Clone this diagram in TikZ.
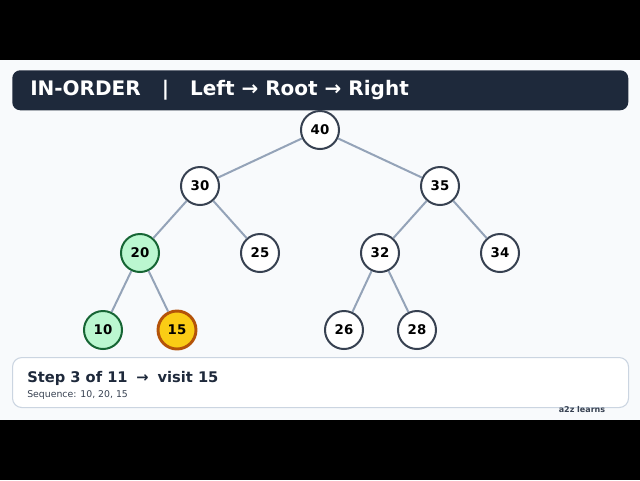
\documentclass[tikz,border=0pt]{standalone}
\usepackage{fontspec}
\setmainfont{DejaVu Sans}
\begin{document}
\begin{tikzpicture}[x=0.75pt,y=-0.75pt,
  nd/.style={circle,minimum size=28.5pt,inner sep=0pt,draw=ndline,line width=1.5pt,fill=white,font=\bfseries\fontsize{10}{12}\selectfont,text=black},
  done/.style={nd,fill=donefill,draw=doneline},
  cur/.style={nd,fill=curfill,draw=curline,line width=2.2pt},
  ed/.style={draw=edgecol,line width=1.5pt}]
\definecolor{ndline}{HTML}{374151}
\definecolor{donefill}{HTML}{BBF7D0}
\definecolor{doneline}{HTML}{166534}
\definecolor{curfill}{HTML}{FACC15}
\definecolor{curline}{HTML}{B45309}
\definecolor{edgecol}{HTML}{94A3B8}
\definecolor{hdr}{HTML}{1E293B}
\definecolor{bg}{HTML}{F8FAFC}
\definecolor{boxline}{HTML}{CBD5E1}
\useasboundingbox (0,0) rectangle (640,480);
\fill[black] (0,0) rectangle (640,480);
\fill[bg] (0,60) rectangle (640,420);
\node[fill=hdr,rounded corners=6pt,minimum width=462pt,minimum height=30pt,anchor=north west] (hdr) at (12,70) {};
\node[anchor=west,inner sep=0pt,text=white,font=\bfseries\fontsize{15}{17}\selectfont] (title) at (30,90.5) {IN-ORDER\hspace{1.05em}|\hspace{1.05em}Left → Root → Right};
\node[nd] (n40) at (320,130) {40};
\node[nd] (n30) at (200,186) {30};
\node[nd] (n35) at (440,186) {35};
\node[done] (n20) at (140,253) {20};
\node[nd] (n25) at (260,253) {25};
\node[nd] (n32) at (380,253) {32};
\node[nd] (n34) at (500,253) {34};
\node[done] (n10) at (103,330) {10};
\node[cur] (n15) at (177,330) {15};
\node[nd] (n26) at (344,330) {26};
\node[nd] (n28) at (417,330) {28};
\foreach \a/\b in {n40/n30,n40/n35,n30/n20,n30/n25,n35/n32,n35/n34,n20/n10,n20/n15,n32/n26,n32/n28}
  \draw[ed] (\a) -- (\b);
\node[fill=white,draw=boxline,line width=0.8pt,rounded corners=7pt,minimum width=462pt,minimum height=37.5pt,anchor=north west] (box) at (12,357) {};
\node[anchor=west,inner sep=0pt,font=\bfseries\fontsize{11}{13}\selectfont,text=hdr] (step) at (27,378.5) {Step 3 of 11\hspace{0.6em}→\hspace{0.6em}visit 15};
\node[anchor=west,inner sep=0pt,font=\fontsize{7}{9}\selectfont,text=ndline] (seq) at (27,394.5) {Sequence: 10, 20, 15};
\node[font=\bfseries\fontsize{6}{7}\selectfont,text=ndline] (wm) at (582,410) {a2z learns};
\end{tikzpicture}
\end{document}
